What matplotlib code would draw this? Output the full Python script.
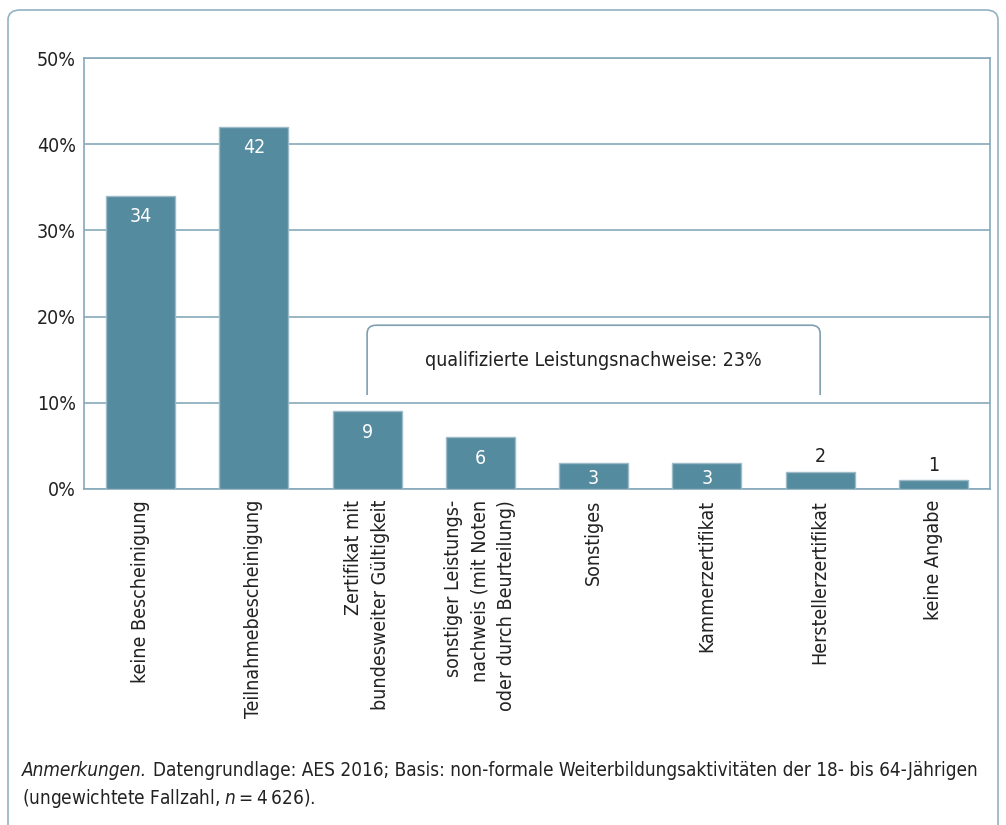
import matplotlib
matplotlib.use("Agg")
import matplotlib.pyplot as plt
from matplotlib.patches import FancyBboxPatch, PathPatch
from matplotlib.path import Path

categories = [
    "keine Bescheinigung",
    "Teilnahmebescheinigung",
    "Zertifikat mit\nbundesweiter Gültigkeit",
    "sonstiger Leistungs-\nnachweis (mit Noten\noder durch Beurteilung)",
    "Sonstiges",
    "Kammerzertifikat",
    "Herstellerzertifikat",
    "keine Angabe",
]
values = [34, 42, 9, 6, 3, 3, 2, 1]
yticks = [0, 10, 20, 30, 40, 50]
ytick_labels = ["0%", "10%", "20%", "30%", "40%", "50%"]
bracket_text = "qualifizierte Leistungsnachweise: 23%"
bracket_from, bracket_to = 2, 6

plt.rcParams["font.family"] = ["DejaVu Sans"]
plt.rcParams["font.stretch"] = "condensed"

BAR = "#558b9f"
EDGE = "#9dbac7"
GRID = "#86a9ba"
TXT = "#222222"
FS = 14
FS_NOTE = 13.55

fig = plt.figure(figsize=(10.06, 8.25), dpi=100)
W, H = 1006, 825

frame = FancyBboxPatch((8 / W, -20 / H), 990 / W, (825 - 10 + 20) / H,
                       boxstyle="round,pad=0,rounding_size=0.012",
                       transform=fig.transFigure, fill=False,
                       edgecolor="#93b2c2", linewidth=1.2)
fig.patches.append(frame)

ax = fig.add_axes([84 / W, (825 - 489) / H, (990 - 84) / W, (489 - 58) / H])
x = list(range(len(values)))
ax.bar(x, values, width=0.61, color=BAR, edgecolor=EDGE, linewidth=1.0, zorder=3)
ax.set_xlim(-0.5, len(values) - 0.5)
ax.set_ylim(0, 50)
ax.set_yticks(yticks)
ax.set_yticklabels(ytick_labels, fontsize=FS, color=TXT)
ax.yaxis.grid(True, color=GRID, linewidth=1.2, zorder=0)
ax.tick_params(axis="y", length=0, pad=6)
for s in ax.spines.values():
    s.set_color(GRID)
    s.set_linewidth(1.2)

ax.set_xticks(x)
ax.set_xticklabels(categories, rotation=90, fontsize=FS, color=TXT,
                   ha="center", va="top", multialignment="right", linespacing=1.5)
ax.tick_params(axis="x", length=0, pad=8)

px_per_unit = (489 - 58) / 50.0
for xi, v in zip(x, values):
    if v >= 3:
        off = min(21, v * px_per_unit - 11)
        ax.annotate(str(v), (xi, v), xytext=(0, -off), textcoords="offset pixels",
                    ha="center", va="center", color="white", fontsize=FS, zorder=4)
    else:
        ax.annotate(str(v), (xi, v), xytext=(0, 15), textcoords="offset pixels",
                    ha="center", va="center", color=TXT, fontsize=FS, zorder=4)

ytop, ybot = 19.0, 10.9
rx, ry = 0.08, 0.95
verts = [(bracket_from, ybot), (bracket_from, ytop - ry), (bracket_from, ytop),
         (bracket_from + rx, ytop), (bracket_to - rx, ytop), (bracket_to, ytop),
         (bracket_to, ytop - ry), (bracket_to, ybot)]
codes = [Path.MOVETO, Path.LINETO, Path.CURVE3, Path.CURVE3, Path.LINETO,
         Path.CURVE3, Path.CURVE3, Path.LINETO]
ax.add_patch(PathPatch(Path(verts, codes), fill=False, edgecolor="#7f9fb0",
                       linewidth=1.2, zorder=4))
ax.text((bracket_from + bracket_to) / 2, 14.9, bracket_text, ha="center",
        va="center", fontsize=FS, color=TXT, zorder=4)

t0 = fig.text(22 / W, 1 - 771 / H, "Anmerkungen.", style="italic", fontsize=FS_NOTE,
              color=TXT, ha="left", va="center")
fig.canvas.draw()
r = t0.get_window_extent(fig.canvas.get_renderer())
fig.text((r.x1 + 6) / W, 1 - 771 / H,
         "Datengrundlage: AES 2016; Basis: non-formale Weiterbildungsaktivitäten der 18- bis 64-Jährigen",
         fontsize=FS_NOTE, color=TXT, ha="left", va="center")
fig.text(22 / W, 1 - 798 / H, "(ungewichtete Fallzahl, $\\it{n}$$=$4\u2009626).",
         fontsize=FS_NOTE, color=TXT, ha="left", va="center")

fig.savefig("out.png", dpi=100)
